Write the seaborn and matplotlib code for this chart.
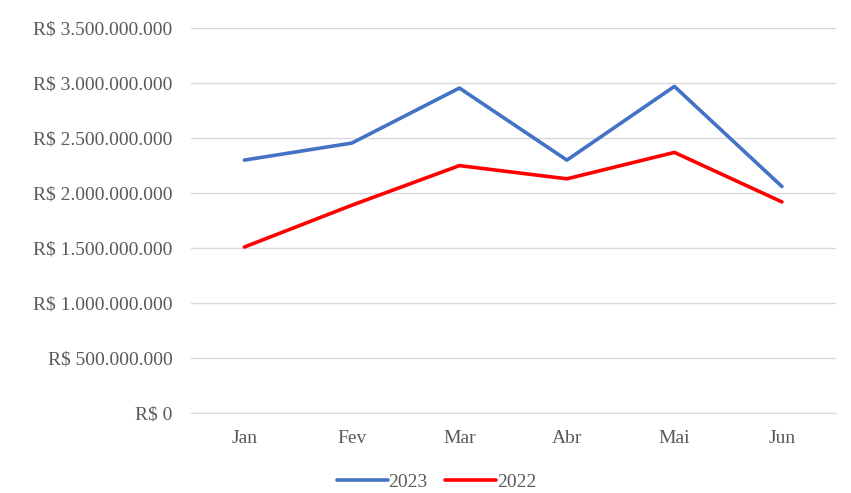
import pandas as pd
import matplotlib.pyplot as plt
import matplotlib.ticker as mticker
import seaborn as sns

# dados
meses = ["Jan", "Fev", "Mar", "Abr", "Mai", "Jun"]
valores_2023 = [2300000000, 2455000000, 2955000000, 2300000000, 2970000000, 2060000000]
valores_2022 = [1510000000, 1890000000, 2250000000, 2130000000, 2370000000, 1920000000]

df = pd.DataFrame({
    "Mês": meses * 2,
    "Valor": valores_2023 + valores_2022,
    "Ano": ["2023"] * len(meses) + ["2022"] * len(meses),
})

sns.set_style("white")
plt.rcParams["font.family"] = ["Liberation Serif", "DejaVu Serif"]

cinza = "#595959"
tam = 14

fig, ax = plt.subplots(figsize=(8.51, 4.93), dpi=100)
fig.subplots_adjust(left=0.224, right=0.982, top=0.943, bottom=0.162)

sns.lineplot(
    data=df, x="Mês", y="Valor", hue="Ano", hue_order=["2023", "2022"],
    palette={"2023": "#4472C4", "2022": "#FF0000"},
    linewidth=2.6, sort=False, ax=ax,
)

ax.set_ylim(0, 3500000000)
ax.set_xlim(-0.5, len(meses) - 0.5)
ax.yaxis.set_major_locator(mticker.MultipleLocator(500000000))
ax.yaxis.set_major_formatter(
    mticker.FuncFormatter(lambda v, p: "R$ " + f"{int(v):,}".replace(",", "."))
)
ax.grid(axis="y", color="#D9D9D9", linewidth=1)
ax.set_axisbelow(True)

ax.set_xticks(range(len(meses)))
ax.set_xticklabels(meses)
ax.set_xticks([i - 0.5 for i in range(len(meses) + 1)], minor=True)
ax.tick_params(axis="x", which="major", length=0, pad=12, labelsize=tam, labelcolor=cinza)
ax.tick_params(axis="x", which="minor", length=4, color="#D9D9D9", direction="out")
ax.tick_params(axis="y", length=0, pad=13, labelsize=tam, labelcolor=cinza)

for s in ["top", "right", "left"]:
    ax.spines[s].set_visible(False)
ax.spines["bottom"].set_color("#D9D9D9")

ax.set_xlabel("")
ax.set_ylabel("")

ax.legend(
    loc="center", bbox_to_anchor=(0.513, 0.022), bbox_transform=fig.transFigure,
    ncol=2, frameon=False, fontsize=tam, handlelength=2.6, handletextpad=0.05,
    columnspacing=0.9, labelcolor=cinza, borderpad=0,
)

plt.savefig("out.png", dpi=100)
